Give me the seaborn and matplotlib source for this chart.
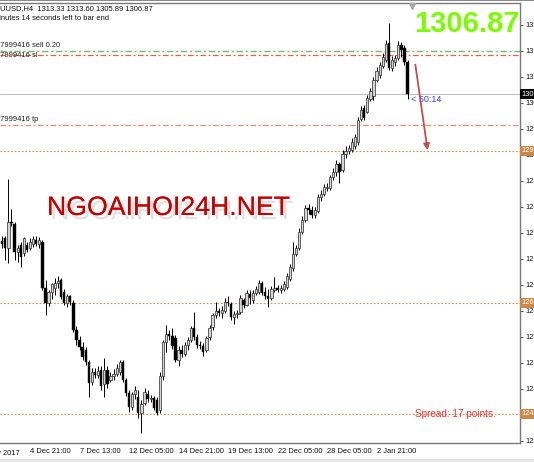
import matplotlib
matplotlib.use("Agg")
import matplotlib.pyplot as plt
import matplotlib.patheffects as pe
from matplotlib.patches import Rectangle
import pandas as pd
import seaborn as sns

# XAUUSD H4 candles
opens = [1277.5, 1278.1, 1276.1, 1281.3, 1280.9, 1275.3, 1276.7, 1275.1, 1276.7, 1276.1,
         1276.9, 1277.7, 1276.9, 1277.3, 1268.1, 1265.1, 1267.3, 1268.1, 1269.1, 1269.7,
         1267.3, 1265.1, 1266.5, 1265.1, 1259.7, 1257.7, 1256.3, 1255.7, 1253.3, 1249.3,
         1251.3, 1250.7, 1251.7, 1248.9, 1251.7, 1249.7, 1250.5, 1250.9, 1251.3, 1253.3,
         1249.7, 1247.1, 1244.3, 1246.9, 1246.3, 1243.1, 1245.1, 1246.9, 1245.9, 1246.1,
         1245.7, 1243.7, 1250.5, 1257.3, 1258.9, 1258.5, 1258.1, 1253.7, 1255.7, 1254.9,
         1256.7, 1257.7, 1260.1, 1258.3, 1256.7, 1256.5, 1255.7, 1258.3, 1260.3, 1262.7,
         1263.5, 1263.1, 1263.5, 1265.3, 1264.9, 1262.3, 1262.9, 1263.3, 1265.7, 1264.7,
         1266.9, 1265.7, 1267.1, 1267.3, 1269.1, 1267.3, 1266.5, 1266.1, 1267.7, 1268.1,
         1267.7, 1267.9, 1268.3, 1269.9, 1272.1, 1274.9, 1276.1, 1279.3, 1281.7, 1284.1,
         1283.7, 1282.7, 1283.5, 1286.3, 1286.9, 1288.1, 1288.1, 1290.3, 1291.3, 1292.9,
         1291.7, 1294.9, 1295.5, 1295.7, 1296.5, 1297.3, 1301.9, 1304.1, 1303.3, 1305.9,
         1306.5, 1309.7, 1310.7, 1312.5, 1313.7, 1317.1, 1312.1, 1313.3, 1314.1, 1316.7,
         1316.1, 1313.33]
highs = [1278.5, 1278.5, 1289.9, 1283.9, 1281.3, 1276.7, 1277.3, 1278.3, 1277.3, 1278.1,
         1278.5, 1278.5, 1278.3, 1277.7, 1269.7, 1267.7, 1269.1, 1270.1, 1270.5, 1270.1,
         1267.9, 1266.9, 1266.7, 1265.7, 1260.5, 1258.5, 1257.3, 1256.3, 1253.7, 1252.1,
         1252.1, 1252.5, 1252.5, 1254.1, 1252.5, 1251.3, 1251.9, 1252.9, 1253.7, 1253.7,
         1250.1, 1247.7, 1247.3, 1248.5, 1247.7, 1245.7, 1248.1, 1247.7, 1246.7, 1246.5,
         1246.3, 1251.3, 1257.7, 1260.7, 1259.7, 1260.1, 1258.7, 1256.5, 1256.7, 1257.3,
         1258.3, 1260.5, 1263.3, 1258.9, 1257.5, 1257.1, 1258.5, 1260.7, 1263.1, 1265.3,
         1264.1, 1264.5, 1266.1, 1266.5, 1265.3, 1263.5, 1263.7, 1266.7, 1266.1, 1267.7,
         1267.7, 1267.7, 1268.5, 1269.7, 1269.5, 1268.3, 1267.9, 1268.5, 1270.3, 1268.7,
         1268.7, 1269.5, 1271.1, 1272.9, 1277.3, 1276.7, 1280.1, 1282.5, 1284.7, 1284.9,
         1284.5, 1284.3, 1286.9, 1287.7, 1288.9, 1289.1, 1290.7, 1292.1, 1293.7, 1293.3,
         1295.7, 1296.5, 1296.7, 1298.1, 1298.9, 1302.3, 1304.5, 1304.7, 1306.7, 1308.1,
         1310.3, 1312.3, 1313.3, 1315.1, 1317.7, 1321.1, 1314.5, 1314.7, 1317.5, 1317.3,
         1316.7, 1313.60]
lows = [1276.1, 1273.7, 1273.1, 1280.5, 1273.7, 1273.3, 1272.3, 1274.5, 1275.3, 1275.7,
        1276.3, 1276.5, 1276.1, 1267.7, 1262.7, 1264.5, 1265.9, 1266.7, 1268.1, 1265.9,
        1264.7, 1264.3, 1264.7, 1259.3, 1256.7, 1255.7, 1253.7, 1252.7, 1246.3, 1248.7,
        1250.1, 1250.1, 1247.7, 1246.3, 1248.1, 1249.3, 1249.7, 1250.5, 1250.7, 1249.3,
        1246.5, 1243.3, 1243.7, 1245.9, 1242.1, 1239.1, 1244.7, 1245.3, 1245.3, 1243.7,
        1242.7, 1243.1, 1249.7, 1255.3, 1257.7, 1255.9, 1253.3, 1252.5, 1254.3, 1254.5,
        1255.7, 1257.3, 1257.7, 1256.1, 1255.9, 1254.5, 1255.3, 1257.7, 1259.7, 1262.1,
        1262.5, 1262.1, 1263.1, 1264.5, 1261.7, 1260.9, 1262.1, 1262.9, 1264.1, 1264.5,
        1264.9, 1265.1, 1266.7, 1266.9, 1266.7, 1265.9, 1264.3, 1265.7, 1267.3, 1267.3,
        1267.1, 1267.5, 1267.9, 1269.5, 1271.5, 1274.5, 1275.7, 1278.9, 1281.3, 1282.9,
        1282.1, 1282.1, 1283.1, 1285.5, 1286.5, 1287.5, 1287.7, 1289.7, 1290.5, 1289.1,
        1291.3, 1294.1, 1294.9, 1295.3, 1295.9, 1296.7, 1301.5, 1301.7, 1303.1, 1305.5,
        1305.7, 1309.3, 1310.1, 1312.1, 1313.3, 1311.7, 1311.5, 1312.5, 1313.7, 1314.3,
        1312.7, 1305.89]
closes = [1276.9, 1276.1, 1281.3, 1281.1, 1275.3, 1276.1, 1274.3, 1278.1, 1275.7, 1277.3,
          1277.9, 1276.9, 1277.7, 1268.1, 1265.1, 1267.3, 1268.9, 1269.1, 1269.5, 1266.3,
          1265.1, 1266.5, 1265.3, 1259.7, 1257.7, 1256.3, 1254.3, 1253.3, 1249.1, 1251.3,
          1250.7, 1251.5, 1248.5, 1251.7, 1248.9, 1250.5, 1250.9, 1252.1, 1253.3, 1249.7,
          1247.1, 1244.3, 1246.9, 1247.7, 1243.1, 1244.9, 1247.3, 1245.9, 1246.1, 1244.1,
          1243.1, 1250.5, 1257.3, 1258.9, 1258.5, 1256.5, 1253.7, 1255.7, 1254.9, 1256.7,
          1257.7, 1260.1, 1258.3, 1256.7, 1256.5, 1255.3, 1258.1, 1260.1, 1262.7, 1263.5,
          1263.1, 1263.7, 1265.3, 1265.1, 1262.3, 1262.9, 1263.1, 1266.1, 1264.7, 1267.1,
          1266.1, 1267.1, 1267.9, 1269.1, 1267.1, 1266.5, 1265.9, 1267.9, 1268.1, 1267.7,
          1268.1, 1268.9, 1270.5, 1272.3, 1274.9, 1276.1, 1279.3, 1281.7, 1284.1, 1283.7,
          1282.7, 1283.7, 1286.3, 1286.9, 1288.3, 1288.3, 1290.3, 1291.3, 1292.9, 1291.3,
          1294.9, 1295.5, 1296.1, 1297.3, 1298.3, 1301.7, 1303.7, 1302.1, 1306.1, 1307.5,
          1309.7, 1311.5, 1312.7, 1314.3, 1316.9, 1312.1, 1313.7, 1314.1, 1316.7, 1315.7,
          1313.3, 1306.87]

time_ticks = [9, 25, 41, 57, 73, 89, 105, 121]
time_labels = ["4 Dec 21:00", "7 Dec 13:00", "12 Dec 05:00", "14 Dec 21:00",
               "19 Dec 13:00", "22 Dec 05:00", "28 Dec 05:00", "2 Jan 21:00"]
price_ticks = [1320.70, 1315.50, 1310.30, 1305.10, 1299.90, 1294.70, 1289.50, 1284.30,
               1279.10, 1273.90, 1268.70, 1263.50, 1258.30, 1253.10, 1247.90, 1242.70, 1237.50]

bid = 1306.87
sell_price = 1315.5
sl_price = 1314.7
tp_price = 1300.7
level_lines = [1295.5, 1265.1, 1242.9]
spread_points = 17

df = pd.DataFrame({"open": opens, "high": highs, "low": lows, "close": closes})
df["bar"] = range(len(df))

sns.set_theme(style="white")
plt.rcParams["font.family"] = ["Liberation Sans", "DejaVu Sans"]

W, H = 534, 462
fig = plt.figure(figsize=(W / 100, H / 100), dpi=100)
fig.patch.set_facecolor("white")
ax = fig.add_axes([0, 19 / H, 520 / W, 440 / H])
ax.set_facecolor("white")

# horizontal levels
ax.axhline(sell_price, color="#6cc06c", lw=1.0, ls=(0, (4.5, 2, 1.5, 2)), zorder=1)
ax.axhline(sl_price, color="#e8603c", lw=0.9, ls=(0, (4.5, 2, 1.5, 2)), zorder=1)
ax.axhline(bid, color="#c0c0c0", lw=0.8, zorder=1)
ax.axhline(tp_price, color="#f08a6a", lw=0.9, ls=(0, (4.5, 2, 1.5, 2)), zorder=1)
for lv in level_lines:
    ax.axhline(lv, color="#d9955a", lw=0.8, ls=(0, (1.6, 1.6)), zorder=1)

# candles
bull = df["close"] >= df["open"]
ax.vlines(df["bar"], df["low"], df["high"], color="black", lw=0.7, zorder=2)
up = df[bull]
dn = df[~bull]
ax.bar(up["bar"], (up["close"] - up["open"]).clip(lower=0.2), bottom=up["open"],
       width=0.75, color="#d4d4d4", edgecolor="#3a3a3a", lw=0.55, zorder=3)
ax.bar(dn["bar"], (dn["open"] - dn["close"]).clip(lower=0.2), bottom=dn["close"],
       width=0.75, color="black", edgecolor="black", lw=0.3, zorder=3)

ax.set_xlim(-0.71, 167.35)
ax.set_ylim(1237.07, 1325.07)

ax.spines["left"].set_visible(False)
for s in ["top", "right", "bottom"]:
    ax.spines[s].set_color("#7a7a7a")
    ax.spines[s].set_linewidth(1.0)

ax.yaxis.tick_right()
ax.set_yticks(price_ticks)
ax.set_yticklabels([f"{p:.2f}" for p in price_ticks])
ax.tick_params(axis="y", direction="out", length=2.5, width=0.8, color="#555555",
               labelsize=5.4, pad=1.5, labelcolor="#111111")
ax.set_xticks(time_ticks)
ax.set_xticklabels(time_labels, ha="left")
ax.tick_params(axis="x", direction="out", length=2.5, width=0.8, color="#555555",
               labelsize=5.4, pad=1.2, labelcolor="#111111")
ax.text(5.75, -0.015, "30 Nov 2017", transform=ax.get_xaxis_transform(), ha="right",
        va="top", fontsize=5.4, color="#111111", clip_on=False)

# price tags on the right scale
ax.text(1.002, bid, f"{bid:.2f}", transform=ax.get_yaxis_transform(), ha="left", va="center",
        fontsize=5.4, color="white", clip_on=False, zorder=6,
        bbox=dict(boxstyle="square,pad=0.2", fc="black", ec="none"))
for lv in level_lines:
    ax.text(1.002, lv, f"{lv:.2f}", transform=ax.get_yaxis_transform(), ha="left", va="center",
            fontsize=5.4, color="white", clip_on=False, zorder=6,
            bbox=dict(boxstyle="square,pad=0.2", fc="#c98a4b", ec="none"))

# order labels
ax.text(-2.0, sell_price + 0.35, "#7999416 sell 0.20", fontsize=5.4, color="#222222",
        va="bottom", ha="left", clip_on=False)
ax.text(-2.0, sl_price - 0.2, "#7999416 sl", fontsize=5.4, color="#222222",
        va="center", ha="left", clip_on=False)
ax.text(-2.0, tp_price + 0.3, "#7999416 tp", fontsize=5.4, color="#222222",
        va="bottom", ha="left", clip_on=False)

# countdown, spread, arrow
ax.text(132.1, 1305.87, "< 50:14", fontsize=6.5, color="#3a3aff", va="center", ha="left")
ax.text(133.5, level_lines[2], f"Spread: {spread_points} points.", fontsize=7.2,
        color="#ff2a2a", va="center", ha="left")
ax.annotate("", xy=(137.6, 1295.1), xytext=(133.4, 1313.3),
            arrowprops=dict(arrowstyle="-|>", color="#c0504d", lw=1.3, mutation_scale=9))
ax.plot([132.5], [1324.4], marker="v", color="#a8a8a8", ms=4, clip_on=False, zorder=6)


# overlays in pixel positions
def fx(x):
    return x / W


def fy(y):
    return 1 - y / H


fig.text(fx(-10), fy(9), "XAUUSD,H4  1313.33 1313.60 1305.89 1306.87", fontsize=5.4,
         color="#111111", va="center", ha="left")
fig.text(fx(-7), fy(19), "minutes 14 seconds left to bar end", fontsize=5.4,
         color="#111111", va="center", ha="left")
fig.text(fx(519), fy(32), f"{bid:.2f}", fontsize=21, fontweight="bold", color="#7cfc00",
         ha="right", va="baseline")
fig.text(fx(47), fy(215), "NGOAIHOI24H.NET", fontsize=19.2, color="#c80000",
         ha="left", va="baseline",
         path_effects=[pe.withSimplePatchShadow(offset=(2.5, -3), shadow_rgbFace="#999999",
                                                alpha=0.3), pe.Normal()])
fig.add_artist(Rectangle((0, 0), 1, 3 / H, transform=fig.transFigure, color="#e6e6e6", lw=0))
fig.add_artist(Rectangle((0, 1 - 1.2 / H), 1, 1.2 / H, transform=fig.transFigure,
                         color="#8a8a8a", lw=0))

fig.savefig("out.png", dpi=100)
